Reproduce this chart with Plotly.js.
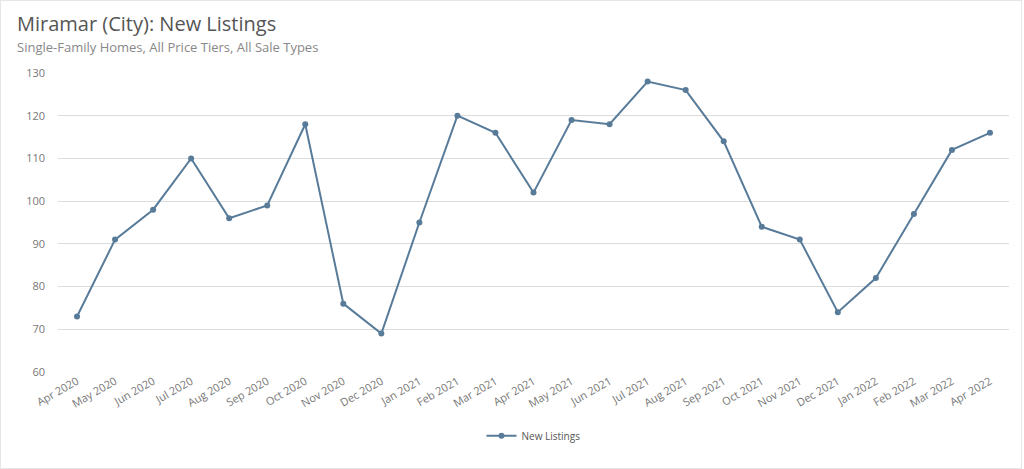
<!DOCTYPE html>
<html>
<head>
<meta charset="utf-8">
<script src="https://cdn.plot.ly/plotly-3.0.1.min.js"></script>
<style>
  html, body { margin: 0; padding: 0; background: #fff; }
  #chart { width: 1022px; height: 469px; box-sizing: border-box; border: 1px solid #e6e6e6; }
</style>
</head>
<body>
<div id="chart"></div>
<script>
const months = [
    "Apr 2020", "May 2020", "Jun 2020", "Jul 2020", "Aug 2020", "Sep 2020",
    "Oct 2020", "Nov 2020", "Dec 2020", "Jan 2021", "Feb 2021", "Mar 2021",
    "Apr 2021", "May 2021", "Jun 2021", "Jul 2021", "Aug 2021", "Sep 2021",
    "Oct 2021", "Nov 2021", "Dec 2021", "Jan 2022", "Feb 2022", "Mar 2022",
    "Apr 2022",
];
const newListings = [
    73, 91, 98, 110, 96, 99, 118, 76, 69, 95, 120, 116,
    102, 119, 118, 128, 126, 114, 94, 91, 74, 82, 97, 112, 116,
];
const yTicks = [60, 70, 80, 90, 100, 110, 120, 130];

const lineColor = "#587b99";
const font = "'Open Sans', 'Noto Sans', sans-serif";

const data = [{
    x: months,
    y: newListings,
    type: "scatter",
    mode: "lines+markers",
    name: "New Listings",
    line: { color: lineColor, width: 2 },
    marker: { color: lineColor, size: 6 },
}];

const layout = {
    width: 1020,
    height: 467,
    margin: { l: 57, r: 12, t: 72, b: 96 },
    paper_bgcolor: "#fff",
    plot_bgcolor: "#fff",
    font: { family: font, color: "#666", size: 11 },
    showlegend: true,
    legend: {
        orientation: "h",
        x: 0.5,
        xanchor: "center",
        y: -0.165,
        yanchor: "top",
        font: { size: 10, color: "#555" },
    },
    xaxis: {
        type: "category",
        range: [-0.5, months.length - 0.5],
        tickangle: -30,
        showgrid: false,
        zeroline: false,
        showline: false,
        ticks: "",
        tickfont: { size: 11, color: "#777" },
        fixedrange: true,
    },
    yaxis: {
        range: [60, 130],
        tickvals: yTicks,
        showgrid: true,
        gridcolor: "#dcdcdc",
        gridwidth: 1,
        zeroline: false,
        showline: false,
        ticks: "",
        ticklabelstandoff: 12,
        tickfont: { size: 11, color: "#777" },
        fixedrange: true,
    },
    annotations: [
        {
            text: "Miramar (City): New Listings",
            xref: "paper", yref: "paper",
            x: -0.045, y: 1.167,
            xanchor: "left", yanchor: "middle",
            showarrow: false,
            font: { family: font, size: 20, color: "#555" },
        },
        {
            text: "Single-Family Homes, All Price Tiers, All Sale Types",
            xref: "paper", yref: "paper",
            x: -0.045, y: 1.087,
            xanchor: "left", yanchor: "middle",
            showarrow: false,
            font: { family: font, size: 13, color: "#888" },
        },
    ],
};

Plotly.newPlot("chart", data, layout, { displayModeBar: false, staticPlot: true });
</script>
</body>
</html>
